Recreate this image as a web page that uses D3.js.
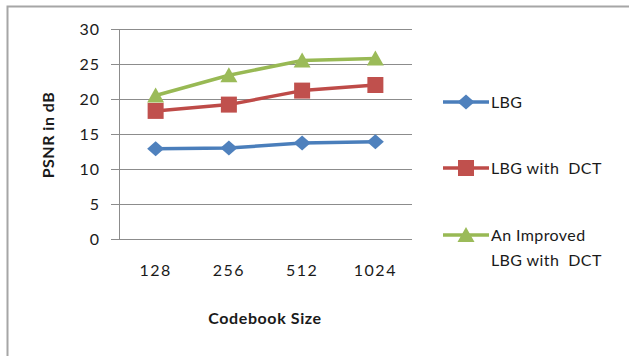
<!DOCTYPE html>
<html><head><meta charset="utf-8">
<script src="https://cdn.jsdelivr.net/npm/d3@7"></script>
<style>body{margin:0;background:#fff}svg{display:block}text{font-family:Lato,"Open Sans",sans-serif}</style>
</head><body><svg id="c" width="629" height="356"></svg>
<script>
const categories = ["128","256","512","1024"];
const seriesNames = ["LBG","LBG with DCT","An Improved LBG with DCT"];
const lbg = [12.9, 13.0, 13.7, 13.9];
const lbgDct = [18.3, 19.2, 21.2, 22.0];
const improved = [20.5, 23.4, 25.5, 25.8];
const yTicks = [0,5,10,15,20,25,30];

const svg = d3.select("#c");
svg.append("rect").attr("x",7.5).attr("y",6.5).attr("width",700).attr("height",400)
  .attr("fill","none").attr("stroke","#a6a6a6").attr("stroke-width",2);

const x = d3.scaleBand().domain(categories).range([119,412]);
const y = d3.scaleLinear().domain([0,30]).range([239,29]);

const g = svg.append("g");
g.selectAll("line.grid").data(yTicks).join("line")
  .attr("x1",111).attr("x2",412).attr("y1",d=>Math.round(y(d))+0.5).attr("y2",d=>Math.round(y(d))+0.5)
  .attr("stroke","#8c8c8c").attr("stroke-width",1);
g.append("line").attr("x1",119.5).attr("x2",119.5).attr("y1",y(30)).attr("y2",y(0)+0.5).attr("stroke","#8c8c8c");

const yAxis = d3.axisLeft(y).tickValues(yTicks).tickSize(0).tickPadding(0);
const ya = svg.append("g").attr("transform","translate(100,0)").call(yAxis);
ya.select(".domain").remove();
ya.selectAll("text").attr("font-size",16).attr("fill","#1a1a1a").attr("dy","0.36em").attr("letter-spacing","1px");

const xAxis = d3.axisBottom(x).tickSize(0).tickPadding(0);
const xa = svg.append("g").attr("transform","translate(0,265)").call(xAxis);
xa.select(".domain").remove();
xa.selectAll("text").attr("font-size",16).attr("fill","#1a1a1a").attr("letter-spacing","1.5px");

svg.append("text").attr("x",265).attr("y",324).attr("text-anchor","middle")
  .attr("font-size",16).attr("font-weight","bold").attr("fill","#1a1a1a").attr("letter-spacing","0.6px").text("Codebook Size");
svg.append("text").attr("transform","translate(54,135) rotate(-90)").attr("text-anchor","middle")
  .attr("font-size",16).attr("font-weight","bold").attr("fill","#1a1a1a").attr("letter-spacing","0.5px").text("PSNR in dB");

const series = [
  {name:seriesNames[0], values:lbg, line:"#4a7ebb", fill:"#4f81bd", shape:"diamond"},
  {name:seriesNames[1], values:lbgDct, line:"#be4b48", fill:"#c0504d", shape:"square"},
  {name:seriesNames[2], values:improved, line:"#98b954", fill:"#9bbb59", shape:"triangle"}
];
function marker(sel, shape, cx, cy, fill){
  if(shape==="diamond"){
    sel.append("path").attr("d",`M${cx},${cy-7.5}L${cx+8.5},${cy}L${cx},${cy+7.5}L${cx-8.5},${cy}Z`).attr("fill",fill);
  } else if(shape==="square"){
    sel.append("rect").attr("x",cx-8).attr("y",cy-8).attr("width",16).attr("height",16).attr("fill",fill);
  } else {
    sel.append("path").attr("d",`M${cx},${cy-8}L${cx+8.5},${cy+7}L${cx-8.5},${cy+7}Z`).attr("fill",fill);
  }
}
const line = d3.line().x((d,i)=>x(categories[i])+x.bandwidth()/2).y(d=>y(d));
series.forEach(s=>{
  svg.append("path").datum(s.values).attr("d",line).attr("fill","none")
    .attr("stroke",s.line).attr("stroke-width",3.5).attr("stroke-linejoin","round");
  const mg = svg.append("g");
  s.values.forEach((v,i)=>marker(mg,s.shape,x(categories[i])+x.bandwidth()/2,y(v),s.fill));
});

const legY = [102,168,235];
series.forEach((s,i)=>{
  const lg = svg.append("g");
  lg.append("line").attr("x1",443).attr("x2",489).attr("y1",legY[i]).attr("y2",legY[i])
    .attr("stroke",s.line).attr("stroke-width",3.5);
  marker(lg,s.shape,466,legY[i],s.fill);
});
const legText = [["LBG"],["LBG with  DCT"],["An Improved","LBG with  DCT"]];
legText.forEach((lines,i)=>{
  const t = svg.append("text").attr("x",491).attr("y",legY[i]+6).attr("font-size",16).attr("fill","#1a1a1a")
    .attr("letter-spacing","0.4px").attr("xml:space","preserve");
  lines.forEach((l,j)=>t.append("tspan").attr("x",491).attr("dy",j?25:0).text(l));
});
</script></body></html>
